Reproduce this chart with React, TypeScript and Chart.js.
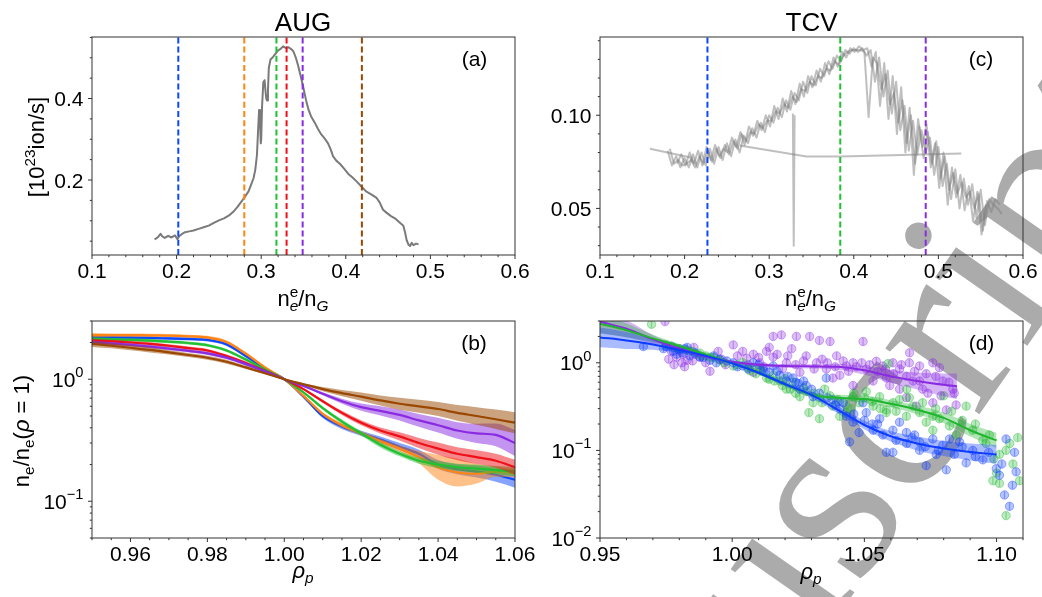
import React, { useEffect, useRef } from "react";
import { Chart, registerables } from "chart.js";
Chart.register(...registerables);

// ---------------- data ----------------
// (a) AUG: ionisation source vs Greenwald fraction
const augTrace: [number, number][] = [
  [0.174,0.054],[0.178,0.060],[0.181,0.068],[0.183,0.062],[0.186,0.058],[0.190,0.063],[0.194,0.059],[0.198,0.064],
  [0.201,0.055],[0.203,0.062],[0.206,0.067],[0.210,0.072],[0.215,0.074],[0.220,0.076],[0.226,0.080],[0.232,0.084],
  [0.238,0.088],[0.244,0.095],[0.250,0.101],[0.256,0.106],[0.262,0.113],[0.267,0.122],[0.272,0.134],[0.277,0.148],
  [0.281,0.160],[0.285,0.172],[0.288,0.188],[0.291,0.205],[0.293,0.225],[0.295,0.262],[0.2965,0.330],[0.2975,0.372],
  [0.2985,0.350],[0.2995,0.290],[0.300,0.300],[0.301,0.380],[0.3025,0.440],[0.304,0.445],[0.305,0.420],[0.306,0.400],
  [0.307,0.395],[0.308,0.420],[0.309,0.475],[0.311,0.496],[0.314,0.502],[0.317,0.510],[0.320,0.518],[0.323,0.522],
  [0.326,0.528],[0.329,0.524],[0.332,0.526],[0.335,0.522],[0.338,0.516],[0.341,0.500],[0.344,0.478],[0.347,0.452],
  [0.350,0.425],[0.353,0.396],[0.356,0.372],[0.359,0.356],[0.363,0.342],[0.367,0.326],[0.371,0.312],[0.375,0.302],
  [0.379,0.290],[0.382,0.276],[0.385,0.258],[0.389,0.247],[0.393,0.240],[0.398,0.228],[0.403,0.215],[0.408,0.206],
  [0.413,0.196],[0.419,0.183],[0.424,0.172],[0.430,0.165],[0.436,0.157],[0.440,0.145],[0.444,0.127],[0.448,0.120],
  [0.453,0.112],[0.458,0.106],[0.463,0.097],[0.468,0.088],[0.470,0.072],[0.472,0.052],[0.474,0.042],[0.476,0.038],
  [0.478,0.046],[0.480,0.040],[0.483,0.044],[0.486,0.042],
];
const augVLines = [0.202, 0.280, 0.318, 0.330, 0.349, 0.419];

// (c) TCV traces
const tcvTraceA: [number, number][] = [
  [0.180,0.081],[0.185,0.073],[0.190,0.078],[0.195,0.072],[0.200,0.077],[0.205,0.072],[0.210,0.079],[0.215,0.072],
  [0.220,0.080],[0.225,0.073],[0.230,0.082],[0.235,0.074],[0.240,0.083],[0.245,0.076],[0.250,0.085],[0.255,0.078],
  [0.260,0.087],[0.265,0.080],[0.270,0.089],[0.275,0.085],[0.280,0.093],[0.285,0.088],[0.290,0.096],[0.295,0.091],
  [0.300,0.100],[0.305,0.096],[0.310,0.104],[0.315,0.099],[0.320,0.108],[0.325,0.103],[0.330,0.112],[0.335,0.108],
  [0.340,0.118],[0.345,0.112],[0.350,0.121],[0.355,0.116],[0.360,0.125],[0.365,0.121],[0.370,0.129],[0.375,0.125],
  [0.380,0.132],[0.385,0.129],[0.390,0.135],[0.395,0.133],[0.400,0.136],[0.405,0.134],[0.410,0.136],[0.415,0.132],
  [0.420,0.135],[0.425,0.118],[0.430,0.131],[0.435,0.110],[0.440,0.124],[0.445,0.101],[0.450,0.118],[0.455,0.092],
  [0.460,0.105],[0.465,0.081],[0.470,0.097],[0.475,0.079],[0.480,0.092],[0.485,0.080],[0.490,0.088],[0.495,0.068],
  [0.500,0.083],[0.505,0.062],[0.510,0.074],[0.515,0.055],[0.520,0.071],[0.525,0.050],[0.530,0.066],[0.535,0.052],
  [0.540,0.063],[0.545,0.045],[0.550,0.060],[0.555,0.041],[0.560,0.055],[0.565,0.052],[0.570,0.050],[0.575,0.047],
];
const tcvTraceB: [number, number][] = [
  [0.1825,0.082],[0.1875,0.074],[0.1925,0.076],[0.1975,0.073],[0.2025,0.074],[0.2075,0.076],[0.2125,0.072],[0.2175,0.078],
  [0.2225,0.074],[0.2275,0.081],[0.2325,0.075],[0.2375,0.082],[0.2425,0.077],[0.2475,0.084],[0.2525,0.079],[0.2575,0.086],
  [0.2625,0.082],[0.2675,0.090],[0.2725,0.086],[0.2775,0.091],[0.2825,0.090],[0.2875,0.095],[0.2925,0.093],[0.2975,0.097],
  [0.3025,0.097],[0.3075,0.102],[0.3125,0.101],[0.3175,0.106],[0.3225,0.104],[0.3275,0.110],[0.3325,0.107],[0.3375,0.114],
  [0.3425,0.113],[0.3475,0.118],[0.3525,0.116],[0.3575,0.121],[0.3625,0.120],[0.3675,0.125],[0.3725,0.124],[0.3775,0.129],
  [0.3825,0.127],[0.3875,0.132],[0.3925,0.134],[0.3975,0.135],[0.4025,0.135],[0.4075,0.135],[0.4125,0.134],[0.4175,0.099],
  [0.4225,0.131],[0.4275,0.128],[0.4325,0.114],[0.4375,0.122],[0.4425,0.106],[0.4475,0.112],[0.4525,0.096],[0.4575,0.108],
  [0.4625,0.085],[0.4675,0.100],[0.4725,0.074],[0.4775,0.094],[0.4825,0.077],[0.4875,0.091],[0.4925,0.074],[0.4975,0.086],
  [0.5025,0.066],[0.5075,0.078],[0.5125,0.060],[0.5175,0.069],[0.5225,0.058],[0.5275,0.064],[0.5325,0.056],[0.5375,0.059],
  [0.5425,0.050],[0.5475,0.058],[0.5525,0.038],[0.5575,0.054],[0.5625,0.048],[0.5675,0.055],[0.5725,0.052],
];
const tcvTraceC: [number, number][] = [
  [0.191,0.074],[0.196,0.079],[0.201,0.073],[0.206,0.080],[0.211,0.074],[0.216,0.081],[0.221,0.073],[0.226,0.083],
  [0.231,0.076],[0.236,0.084],[0.241,0.078],[0.246,0.082],[0.251,0.080],[0.256,0.088],[0.261,0.083],[0.266,0.091],
  [0.271,0.084],[0.276,0.094],[0.281,0.089],[0.286,0.097],[0.291,0.092],[0.296,0.100],[0.301,0.094],[0.306,0.105],
  [0.311,0.098],[0.316,0.109],[0.321,0.102],[0.326,0.113],[0.331,0.106],[0.336,0.117],[0.341,0.110],[0.346,0.121],
  [0.351,0.115],[0.356,0.124],[0.361,0.118],[0.366,0.128],[0.371,0.122],[0.376,0.131],[0.381,0.126],[0.386,0.134],
  [0.391,0.131],[0.396,0.136],[0.401,0.134],[0.406,0.137],[0.411,0.135],[0.416,0.136],[0.421,0.126],[0.426,0.134],
  [0.431,0.105],[0.436,0.128],[0.441,0.098],[0.446,0.121],[0.451,0.090],[0.456,0.115],[0.461,0.080],[0.466,0.104],
  [0.471,0.068],[0.476,0.098],[0.481,0.083],[0.486,0.095],[0.491,0.072],[0.496,0.085],[0.501,0.061],[0.506,0.080],
  [0.511,0.052],[0.516,0.072],[0.521,0.056],[0.526,0.068],[0.531,0.049],[0.536,0.062],[0.541,0.043],[0.546,0.059],
  [0.551,0.036],[0.556,0.052],
];
const tcvFlatA: [number, number][] = [[0.159,0.082],[0.206,0.0775],[0.212,0.074]];
const tcvFlatB: [number, number][] = [[0.265,0.0838],[0.344,0.0779],[0.385,0.0779],[0.527,0.0795]];
const tcvSpike: [number, number][] = [[0.328,0.101],[0.329,0.030],[0.330,0.100]];
const tcvVLines = [0.227, 0.384, 0.485];

// (b) AUG normalised profiles
const rhoB = [0.95,0.955,0.96,0.965,0.97,0.975,0.98,0.985,0.99,0.995,1.0,1.005,1.01,1.015,1.02,1.025,1.03,1.035,1.04,1.045,1.05,1.055,1.06];
const profBlue   = [2.21,2.20,2.19,2.18,2.16,2.14,2.10,1.93,1.55,1.22,1.00,0.72,0.50,0.41,0.36,0.32,0.28,0.245,0.20,0.183,0.175,0.165,0.15];
const profOrange = [2.30,2.30,2.30,2.29,2.28,2.25,2.20,2.02,1.62,1.25,1.00,0.73,0.52,0.42,0.36,0.31,0.27,0.23,0.19,0.172,0.168,0.175,0.17];
const profGreen  = [2.14,2.12,2.10,2.07,2.03,1.98,1.90,1.72,1.45,1.20,1.00,0.78,0.58,0.45,0.36,0.29,0.245,0.215,0.20,0.19,0.185,0.18,0.175];
const profRed    = [2.07,2.04,2.00,1.95,1.88,1.80,1.72,1.55,1.36,1.17,1.00,0.83,0.66,0.53,0.44,0.38,0.34,0.30,0.27,0.245,0.23,0.215,0.19];
const profPurple = [2.01,1.96,1.91,1.85,1.78,1.71,1.63,1.50,1.33,1.16,1.00,0.88,0.76,0.66,0.59,0.55,0.51,0.46,0.42,0.38,0.36,0.35,0.30];
const profBrown  = [1.95,1.88,1.81,1.74,1.66,1.58,1.50,1.39,1.25,1.12,1.00,0.91,0.83,0.77,0.72,0.67,0.63,0.60,0.57,0.53,0.50,0.47,0.44];
const errBlue   = [0.04,0.03,0.03,0.03,0.03,0.03,0.03,0.03,0.03,0.02,0.01,0.02,0.04,0.05,0.05,0.06,0.07,0.08,0.09,0.10,0.12,0.14,0.16];
const errOrange = [0.04,0.03,0.03,0.03,0.03,0.03,0.03,0.03,0.03,0.02,0.01,0.02,0.03,0.04,0.04,0.05,0.06,0.12,0.26,0.30,0.20,0.10,0.08];
const errGreen  = [0.04,0.03,0.03,0.03,0.03,0.03,0.03,0.03,0.03,0.02,0.01,0.02,0.03,0.04,0.04,0.05,0.05,0.06,0.07,0.07,0.08,0.08,0.09];
const errRed    = [0.04,0.03,0.03,0.03,0.03,0.03,0.03,0.03,0.03,0.02,0.01,0.02,0.03,0.04,0.05,0.06,0.08,0.10,0.12,0.13,0.14,0.14,0.15];
const errPurple = [0.04,0.03,0.03,0.03,0.03,0.03,0.03,0.03,0.03,0.02,0.01,0.02,0.03,0.05,0.07,0.09,0.11,0.13,0.15,0.17,0.20,0.24,0.28];
const errBrown  = [0.06,0.05,0.05,0.05,0.04,0.04,0.04,0.04,0.03,0.02,0.01,0.02,0.04,0.06,0.08,0.10,0.12,0.13,0.14,0.16,0.18,0.20,0.22];

// (d) TCV normalised profiles
const rhoDPurple = [0.95,0.96,0.97,0.98,0.99,1.00,1.01,1.02,1.03,1.04,1.05,1.06,1.07,1.08,1.085];
const rhoD = [0.95,0.96,0.97,0.98,0.99,1.00,1.01,1.02,1.03,1.04,1.05,1.06,1.07,1.08,1.09,1.10];
const fitPurple = [2.95,2.45,1.85,1.45,1.18,1.03,0.95,0.92,0.91,0.90,0.82,0.70,0.62,0.56,0.54];
const fitGreen  = [2.8,2.35,1.9,1.55,1.24,0.99,0.77,0.57,0.43,0.40,0.385,0.34,0.29,0.235,0.17,0.13];
const fitBlue   = [1.95,1.80,1.62,1.40,1.20,0.99,0.77,0.57,0.43,0.29,0.195,0.145,0.12,0.105,0.096,0.09];
const fitErrPurple = [0.35,0.25,0.12,0.06,0.04,0.03,0.04,0.05,0.06,0.08,0.12,0.18,0.25,0.35,0.40];
const fitErrGreen  = [0.30,0.20,0.10,0.06,0.04,0.03,0.04,0.05,0.06,0.08,0.10,0.10,0.12,0.15,0.18,0.22];
const fitErrBlue   = [0.30,0.25,0.15,0.08,0.05,0.03,0.04,0.06,0.08,0.10,0.12,0.15,0.20,0.22,0.25,0.28];
const ptsPurple: [number, number][] = [
  [0.9746,2.95],[0.977,1.35],[0.979,1.16],[0.981,1.0],[0.983,1.07],[0.9815,1.25],[0.984,1.35],[0.9916,0.80],[0.9878,1.16],
  [0.9947,1.35],[1.0004,1.6],[1.004,1.35],[1.0055,1.13],[1.008,1.25],[1.0104,1.0],[1.013,1.35],[1.0155,2.0],[1.0186,2.08],
  [1.0243,2.0],[1.0293,2.0],[1.033,1.8],[1.037,1.75],[1.0495,1.75],[1.0155,1.16],[1.0205,1.0],[1.028,1.2],[1.0319,1.0],
  [1.0356,0.85],[1.0381,0.67],[1.0407,0.72],[1.0432,0.92],[1.0457,1.0],[1.0507,0.85],[1.0545,1.04],[1.057,0.92],[1.0608,1.0],
  [1.0633,0.85],[1.0671,1.3],[1.0684,0.62],[1.0709,0.92],[1.0734,0.75],[1.0759,1.0],[1.0784,0.88],[1.067,1.0],[1.0583,0.67],
  [1.0633,0.5],[1.0659,0.4],[1.0696,0.32],[1.0759,0.35],[1.081,0.29],[1.0847,0.33],[1.0797,0.62],[1.0835,0.5],[1.0709,0.62],
  [1.0457,0.55],[1.0533,0.62],[1.0596,0.55],[1.0256,0.78],[1.019,0.85],[1.008,0.78],[0.9975,0.95],[0.9855,1.5],[1.0225,1.45],
  [1.0395,1.2],[0.976,1.1],[0.978,0.95],[0.980,1.45],[0.982,0.9],[0.985,1.05],[0.986,1.25],[0.990,1.0],[0.996,1.1],
  [1.002,1.2],[1.006,0.95],[1.010,1.15],[1.012,0.9],[1.014,1.5],[1.017,1.25],[1.021,1.2],[1.024,0.95],[1.027,1.05],
  [1.031,0.85],[1.034,1.1],[1.036,1.0],[1.039,0.9],[1.042,1.05],[1.044,0.8],[1.047,0.9],[1.049,1.0],[1.052,0.95],
  [1.055,0.8],[1.058,0.85],[1.061,0.75],[1.064,0.95],[1.066,0.7],[1.069,0.8],[1.072,0.5],[1.074,0.45],[1.077,0.7],
  [1.079,0.42],[1.082,0.6],[1.084,0.45],
];
const ptsGreen: [number, number][] = [
  [0.9695,2.75],[0.9827,1.4],[0.9878,1.29],[0.9916,1.16],[0.9953,1.07],[1.0004,0.92],[1.004,1.0],[1.0067,0.81],[1.0104,0.85],
  [1.013,0.67],[1.0155,0.72],[1.018,0.62],[1.0205,0.5],[1.023,0.6],[1.0256,0.41],[1.028,0.47],[1.0306,0.35],[1.0331,0.4],
  [1.029,0.27],[1.033,0.23],[1.038,0.32],[1.0407,0.245],[1.0432,0.27],[1.0457,0.41],[1.048,0.35],[1.0507,0.47],[1.0533,0.32],
  [1.0558,0.41],[1.0583,0.29],[1.0608,0.35],[1.0633,0.38],[1.0659,0.245],[1.0684,0.32],[1.0709,0.27],[1.0734,0.21],[1.0759,0.17],
  [1.0784,0.23],[1.0822,0.19],[1.0847,0.15],[1.0885,0.32],[1.091,0.17],[1.0948,0.13],[1.0973,0.15],[1.1011,0.09],[1.1036,0.1],
  [1.1062,0.07],[1.0986,0.045],[1.1011,0.042],[1.1036,0.018],[1.108,0.14],[1.1087,0.045],[1.0583,0.27],[1.0759,0.245],[1.059,0.98],
  [0.978,1.5],[0.99,1.2],[1.008,0.88],[1.02,0.66],[1.035,0.5],[1.045,0.3],[1.066,0.5],[1.08,0.42],
  [0.975,1.6],[0.98,1.45],[0.985,1.35],[0.988,1.2],[0.993,1.15],[0.997,1.0],[1.002,0.95],[1.006,0.88],[1.009,0.75],
  [1.011,0.8],[1.014,0.65],[1.016,0.62],[1.019,0.55],[1.022,0.5],[1.024,0.45],[1.027,0.52],[1.031,0.45],[1.034,0.35],
  [1.037,0.42],[1.04,0.38],[1.043,0.33],[1.046,0.45],[1.05,0.4],[1.053,0.36],[1.056,0.3],[1.062,0.28],[1.067,0.4],
  [1.072,0.35],[1.077,0.3],[1.083,0.28],[1.087,0.22],[1.092,0.2],[1.096,0.12],[1.099,0.08],[1.105,0.12],[1.1,0.055],
];
const ptsBlue: [number, number][] = [
  [0.9664,1.53],[0.975,1.53],[0.9777,1.35],[0.98,1.4],[0.984,1.2],[0.9878,1.16],[0.9916,1.07],[0.9953,1.1],[1.0004,1.0],
  [1.004,0.92],[1.008,1.0],[1.0117,0.85],[1.0155,0.92],[1.018,0.72],[1.0205,0.62],[1.023,0.67],[1.0256,0.5],[1.028,0.55],
  [1.0306,0.41],[1.0356,0.67],[1.038,0.38],[1.0407,0.3],[1.0432,0.245],[1.0444,0.125],[1.0457,0.21],[1.048,0.16],[1.0495,0.35],
  [1.0507,0.27],[1.0533,0.17],[1.0558,0.23],[1.0583,0.095],[1.0608,0.095],[1.0608,0.17],[1.0633,0.21],[1.0659,0.16],[1.0709,0.125],
  [1.0734,0.067],[1.0759,0.135],[1.0772,0.09],[1.081,0.06],[1.0822,0.135],[1.086,0.125],[1.0885,0.072],[1.091,0.1],[1.0948,0.078],
  [1.0999,0.062],[1.1011,0.052],[1.1036,0.135],[1.1068,0.095],[1.1074,0.057],[1.103,0.031],[1.1049,0.023],[1.0797,0.115],
  [1.0709,0.1],[0.979,1.25],[0.982,1.45],[0.993,1.2],[1.012,0.8],[1.025,0.58],[1.04,0.36],[1.055,0.2],[1.068,0.14],
  [0.974,1.45],[0.977,1.55],[0.981,1.3],[0.983,1.5],[0.986,1.3],[0.989,1.15],[0.994,1.0],[0.998,1.05],[1.002,0.9],
  [1.006,0.85],[1.01,0.95],[1.014,0.78],[1.017,0.8],[1.021,0.7],[1.024,0.6],[1.027,0.62],[1.03,0.5],[1.033,0.45],
  [1.036,0.4],[1.039,0.33],[1.042,0.35],[1.046,0.26],[1.05,0.22],[1.053,0.2],[1.057,0.15],[1.062,0.13],[1.066,0.12],
  [1.069,0.15],[1.073,0.11],[1.078,0.1],[1.084,0.09],[1.087,0.11],[1.092,0.085],[1.097,0.095],[1.102,0.07],[1.106,0.04],
];
const ptErr = 0.1;

// tick labels
const xTicksA = [0.1, 0.2, 0.3, 0.4, 0.5, 0.6];
const xTickLabelsA = ["0.1", "0.2", "0.3", "0.4", "0.5", "0.6"];
const yTicksA = [0.2, 0.4];
const yTickLabelsA = ["0.2", "0.4"];
const yTicksC = [0.05, 0.10];
const yTickLabelsC = ["0.05", "0.10"];
const xTicksB = [0.96, 0.98, 1.0, 1.02, 1.04, 1.06];
const xTickLabelsB = ["0.96", "0.98", "1.00", "1.02", "1.04", "1.06"];
const yTicksB = [0.1, 1];
const yExpB = ["\u22121", "0"];
const xTicksD = [0.95, 1.0, 1.05, 1.1];
const xTickLabelsD = ["0.95", "1.00", "1.05", "1.10"];
const yTicksD = [0.01, 0.1, 1];
const yExpD = ["\u22122", "\u22121", "0"];

// ---------------- style / layout ----------------
const W = 1042, H = 597;
const FONT = '"Liberation Sans", Arial, Helvetica, sans-serif';
const TICK = 21, LABEL = 22, TITLE = 26, TAG = 21;
const BLUE = "#0b48ff", ORANGE = "#ff8414", GREEN = "#20c032", RED = "#ee1018", PURPLE = "#8a2be2", BROWN = "#9a4800";
const D_PURPLE = "#8a2be2", D_GREEN = "#1fb52e", D_BLUE = "#0c3cff";
const AXIS = "#333";

const boxA = { l: 92, r: 515, t: 37, b: 255 };
const boxC = { l: 600, r: 1023, t: 37, b: 255 };
const boxB = { l: 92, r: 515, t: 321, b: 538 };
const boxD = { l: 600, r: 1023, t: 321, b: 538 };

function rgba(hex: string, a: number) {
  const n = parseInt(hex.slice(1), 16);
  return `rgba(${(n >> 16) & 255},${(n >> 8) & 255},${n & 255},${a})`;
}

type Seg = { t: string; s?: number; dy?: number; it?: boolean; stack?: boolean };

function drawRich(ctx: CanvasRenderingContext2D, segs: Seg[], x: number, y: number, size: number, align: "left" | "center" | "right", rot = 0) {
  ctx.save();
  ctx.translate(x, y);
  if (rot) ctx.rotate(rot);
  const placed: { seg: Seg; x: number; font: string }[] = [];
  let cursor = 0, prevStart = 0, prevW = 0;
  for (const seg of segs) {
    const sz = size * (seg.s ?? 1);
    const font = `${seg.it ? "italic " : ""}${sz}px ${FONT}`;
    ctx.font = font;
    const w = ctx.measureText(seg.t).width;
    if (seg.stack) {
      placed.push({ seg, x: prevStart, font });
      cursor = prevStart + Math.max(prevW, w);
    } else {
      placed.push({ seg, x: cursor, font });
      prevStart = cursor; prevW = w; cursor += w;
    }
  }
  const off = align === "left" ? 0 : align === "center" ? -cursor / 2 : -cursor;
  ctx.textAlign = "left";
  ctx.textBaseline = "alphabetic";
  ctx.fillStyle = "#000";
  for (const p of placed) {
    ctx.font = p.font;
    ctx.fillText(p.seg.t, off + p.x, (p.seg.dy ?? 0) * size);
  }
  ctx.restore();
}

const plain = (s: string): Seg[] => [{ t: s }];
const pow10 = (e: string): Seg[] => [{ t: "10" }, { t: e, s: 0.7, dy: -0.45 }];

function range(a: number, b: number, step: number, skip: number[]) {
  const out: number[] = [];
  const n = Math.round((b - a) / step);
  for (let i = 0; i <= n; i++) {
    const v = +(a + i * step).toFixed(6);
    if (!skip.some((s) => Math.abs(s - v) < 1e-9)) out.push(v);
  }
  return out;
}
function logMinors(lo: number, hi: number) {
  const out: number[] = [];
  for (let d = -3; d <= 1; d++) for (let k = 2; k <= 9; k++) {
    const v = k * Math.pow(10, d);
    if (v >= lo - 1e-12 && v <= hi + 1e-12) out.push(v);
  }
  return out;
}

type TextItem = { segs: Seg[]; x: number; y: number; size: number; align: "left" | "center" | "right"; rot?: number };
type Decor = {
  xMajor: number[]; xLabels: Seg[][]; xMinor: number[];
  yMajor: number[]; yLabels: Seg[][]; yMinor: number[];
  texts: TextItem[];
  errPts?: { pts: [number, number][]; color: string }[];
};

function makeDecor(d: Decor) {
  return {
    id: "decor",
    beforeDatasetsDraw(chart: any) {
      if (!d.errPts) return;
      const ctx: CanvasRenderingContext2D = chart.ctx;
      const { left, right, top, bottom } = chart.chartArea;
      const xs = chart.scales.x, ys = chart.scales.y;
      ctx.save();
      ctx.beginPath();
      ctx.rect(left, top, right - left, bottom - top);
      ctx.clip();
      ctx.lineWidth = 1.3;
      for (const g of d.errPts) {
        ctx.strokeStyle = g.color;
        for (const [x, y] of g.pts) {
          const px = xs.getPixelForValue(x);
          ctx.beginPath();
          ctx.moveTo(px, ys.getPixelForValue(y * (1 + ptErr)));
          ctx.lineTo(px, ys.getPixelForValue(y / (1 + ptErr)));
          ctx.stroke();
        }
      }
      ctx.restore();
    },
    afterDraw(chart: any) {
      const ctx: CanvasRenderingContext2D = chart.ctx;
      const { left, right, top, bottom } = chart.chartArea;
      const xs = chart.scales.x, ys = chart.scales.y;
      ctx.save();
      ctx.strokeStyle = AXIS;
      ctx.lineWidth = 1;
      ctx.strokeRect(left, top, right - left, bottom - top);
      const tick = (x1: number, y1: number, x2: number, y2: number) => {
        ctx.beginPath(); ctx.moveTo(x1, y1); ctx.lineTo(x2, y2); ctx.stroke();
      };
      d.xMajor.forEach((v, i) => {
        const px = xs.getPixelForValue(v);
        tick(px, bottom, px, bottom + 4);
        drawRich(ctx, d.xLabels[i], px, bottom + 23, TICK, "center");
      });
      d.xMinor.forEach((v) => {
        const px = xs.getPixelForValue(v);
        if (px >= left - 0.5 && px <= right + 0.5) tick(px, bottom, px, bottom + 2.2);
      });
      d.yMajor.forEach((v, i) => {
        const py = ys.getPixelForValue(v);
        tick(left - 4, py, left, py);
        drawRich(ctx, d.yLabels[i], left - 8.5, py + 7.5, TICK, "right");
      });
      d.yMinor.forEach((v) => {
        const py = ys.getPixelForValue(v);
        if (py >= top - 0.5 && py <= bottom + 0.5) tick(left - 2.2, py, left, py);
      });
      for (const t of d.texts) drawRich(ctx, t.segs, t.x, t.y, t.size, t.align, t.rot ?? 0);
      ctx.restore();
    },
  };
}

const pairs = (p: [number, number][]) => p.map(([x, y]) => ({ x, y }));
const zip = (xs: number[], ys: number[]) => xs.map((x, i) => ({ x, y: ys[i] }));

function lineDs(data: any[], color: string, width: number, extra: any = {}) {
  return { data, borderColor: color, backgroundColor: color, borderWidth: width, pointRadius: 0, tension: 0, fill: false, borderJoinStyle: "round", ...extra };
}
function bandDs(xs: number[], vals: number[], errs: number[], color: string, alpha: number) {
  const lo = xs.map((x, i) => ({ x, y: vals[i] / (1 + errs[i]) }));
  const hi = xs.map((x, i) => ({ x, y: vals[i] * (1 + errs[i]) }));
  return [
    { data: lo, borderWidth: 0, borderColor: "rgba(0,0,0,0)", pointRadius: 0, fill: false, cubicInterpolationMode: "monotone" },
    { data: hi, borderWidth: 0, borderColor: "rgba(0,0,0,0)", backgroundColor: rgba(color, alpha), pointRadius: 0, fill: "-1", cubicInterpolationMode: "monotone" },
  ];
}
function vlineDs(v: number, ymin: number, ymax: number, color: string) {
  return lineDs([{ x: v, y: ymin }, { x: v, y: ymax }], color, 2, { borderDash: [6, 3.2], borderCapStyle: "butt" });
}
function scatterDs(p: [number, number][], color: string) {
  return { data: pairs(p), showLine: false, pointRadius: 4.2, pointBorderWidth: 1, pointBackgroundColor: rgba(color, 0.3), pointBorderColor: rgba(color, 0.38), borderColor: rgba(color, 0.38) };
}

function makeConfig(box: any, x: any, y: any, datasets: any[], decor: Decor) {
  datasets.forEach((d, i) => (d.order = -i));
  return {
    type: "line",
    data: { datasets },
    options: {
      responsive: false,
      animation: false,
      devicePixelRatio: 1,
      events: [],
      layout: { autoPadding: false, padding: { left: box.l, top: box.t, right: W - box.r, bottom: H - box.b } },
      scales: { x: { ...x, display: false }, y: { ...y, display: false } },
      plugins: { legend: { display: false }, tooltip: { enabled: false } },
    },
    plugins: [makeDecor(decor)],
  };
}

const NE_NG: Seg[] = [{ t: "n" }, { t: "e", s: 0.7, dy: -0.42 }, { t: "e", s: 0.7, dy: 0.24, it: true, stack: true }, { t: "/n" }, { t: "G", s: 0.7, dy: 0.24, it: true }];
const RHO_P: Seg[] = [{ t: "\u03c1", it: true }, { t: "p", s: 0.7, dy: 0.24, it: true }];

function configA() {
  const yMin = 0.016, yMax = 0.551;
  const colors = [BLUE, ORANGE, GREEN, RED, PURPLE, BROWN];
  const ds: any[] = [lineDs(pairs(augTrace), "#7a7a7a", 2)];
  augVLines.forEach((v, i) => ds.push(vlineDs(v, yMin, yMax, colors[i])));
  return makeConfig(boxA, { type: "linear", min: 0.1, max: 0.6 }, { type: "linear", min: yMin, max: yMax }, ds, {
    xMajor: xTicksA, xLabels: xTickLabelsA.map(plain), xMinor: range(0.1, 0.6, 0.02, xTicksA),
    yMajor: yTicksA, yLabels: yTickLabelsA.map(plain), yMinor: range(0.05, 0.55, 0.05, yTicksA),
    texts: [
      { segs: plain("AUG"), x: 303, y: 30.5, size: TITLE, align: "center" },
      { segs: plain("(a)"), x: 474.5, y: 66, size: TAG, align: "center" },
      { segs: NE_NG, x: 303, y: 306, size: LABEL, align: "center" },
      { segs: [{ t: "[10" }, { t: "23", s: 0.7, dy: -0.42 }, { t: "ion/s]" }], x: 44, y: 147, size: LABEL, align: "center", rot: -Math.PI / 2 },
    ],
  });
}

function configC() {
  const yMin = 0.025, yMax = 0.142;
  const colors = [BLUE, GREEN, PURPLE];
  const grey = "rgba(128,128,128,0.5)";
  const ds: any[] = [
    lineDs(pairs(tcvFlatA), grey, 2),
    lineDs(pairs(tcvFlatB), grey, 2),
    lineDs(pairs(tcvSpike), grey, 2),
    lineDs(pairs(tcvTraceA), grey, 2),
    lineDs(pairs(tcvTraceB), grey, 2),
    lineDs(pairs(tcvTraceC), grey, 2),
  ];
  tcvVLines.forEach((v, i) => ds.push(vlineDs(v, yMin, yMax, colors[i])));
  return makeConfig(boxC, { type: "linear", min: 0.1, max: 0.6 }, { type: "linear", min: yMin, max: yMax }, ds, {
    xMajor: xTicksA, xLabels: xTickLabelsA.map(plain), xMinor: range(0.1, 0.6, 0.02, xTicksA),
    yMajor: yTicksC, yLabels: yTickLabelsC.map(plain), yMinor: range(0.03, 0.14, 0.01, yTicksC),
    texts: [
      { segs: plain("TCV"), x: 811.5, y: 30.5, size: TITLE, align: "center" },
      { segs: plain("(c)"), x: 981, y: 66, size: TAG, align: "center" },
      { segs: NE_NG, x: 810.5, y: 306, size: LABEL, align: "center" },
    ],
  });
}

function configB() {
  const series: [number[], number[], string][] = [
    [profBlue, errBlue, BLUE], [profOrange, errOrange, ORANGE], [profGreen, errGreen, GREEN],
    [profRed, errRed, RED], [profPurple, errPurple, PURPLE], [profBrown, errBrown, BROWN],
  ];
  const ds: any[] = [];
  for (const [v, e, c] of series) {
    ds.push(...bandDs(rhoB, v, e, c, 0.5));
    ds.push(lineDs(zip(rhoB, v), c, 2.2, { cubicInterpolationMode: "monotone" }));
  }
  return makeConfig(boxB, { type: "linear", min: 0.95, max: 1.06 }, { type: "logarithmic", min: 0.05, max: 3 }, ds, {
    xMajor: xTicksB, xLabels: xTickLabelsB.map(plain), xMinor: range(0.95, 1.06, 0.005, xTicksB),
    yMajor: yTicksB, yLabels: yExpB.map(pow10), yMinor: logMinors(0.05, 3),
    texts: [
      { segs: plain("(b)"), x: 474, y: 350, size: TAG, align: "center" },
      { segs: RHO_P, x: 303, y: 578, size: LABEL, align: "center" },
      {
        segs: [{ t: "n" }, { t: "e", s: 0.7, dy: 0.24 }, { t: "/n" }, { t: "e", s: 0.7, dy: 0.24 }, { t: "(" }, { t: "\u03c1", it: true }, { t: " = 1)" }],
        x: 29, y: 431, size: LABEL, align: "center", rot: -Math.PI / 2,
      },
    ],
  });
}

function configD() {
  const ds: any[] = [
    scatterDs(ptsPurple, D_PURPLE),
    scatterDs(ptsGreen, D_GREEN),
    scatterDs(ptsBlue, D_BLUE),
    ...bandDs(rhoDPurple, fitPurple, fitErrPurple, D_PURPLE, 0.35),
    ...bandDs(rhoD, fitGreen, fitErrGreen, D_GREEN, 0.35),
    ...bandDs(rhoD, fitBlue, fitErrBlue, D_BLUE, 0.35),
    lineDs(zip(rhoDPurple, fitPurple), D_PURPLE, 2, { cubicInterpolationMode: "monotone" }),
    lineDs(zip(rhoD, fitGreen), D_GREEN, 2, { cubicInterpolationMode: "monotone" }),
    lineDs(zip(rhoD, fitBlue), D_BLUE, 2, { cubicInterpolationMode: "monotone" }),
  ];
  return makeConfig(boxD, { type: "linear", min: 0.95, max: 1.11 }, { type: "logarithmic", min: 0.01, max: 3 }, ds, {
    xMajor: xTicksD, xLabels: xTickLabelsD.map(plain), xMinor: range(0.95, 1.11, 0.01, xTicksD),
    yMajor: yTicksD, yLabels: yExpD.map(pow10), yMinor: logMinors(0.01, 3),
    texts: [
      { segs: plain("(d)"), x: 981.5, y: 350, size: TAG, align: "center" },
      { segs: RHO_P, x: 811, y: 579, size: LABEL, align: "center" },
    ],
    errPts: [
      { pts: ptsPurple, color: rgba(D_PURPLE, 0.38) },
      { pts: ptsGreen, color: rgba(D_GREEN, 0.38) },
      { pts: ptsBlue, color: rgba(D_BLUE, 0.38) },
    ],
  });
}

export default function App() {
  const rA = useRef<HTMLCanvasElement>(null);
  const rB = useRef<HTMLCanvasElement>(null);
  const rC = useRef<HTMLCanvasElement>(null);
  const rD = useRef<HTMLCanvasElement>(null);
  useEffect(() => {
    const charts = [
      new Chart(rA.current as HTMLCanvasElement, configA() as any),
      new Chart(rB.current as HTMLCanvasElement, configB() as any),
      new Chart(rC.current as HTMLCanvasElement, configC() as any),
      new Chart(rD.current as HTMLCanvasElement, configD() as any),
    ];
    return () => charts.forEach((c) => c.destroy());
  }, []);
  const cs: React.CSSProperties = { position: "absolute", left: 0, top: 0, width: W, height: H };
  return (
    <div style={{ position: "absolute", left: 0, top: 0, width: W, height: H, overflow: "hidden", background: "#fff" }}>
      <div
        style={{
          position: "absolute", left: -226.5, top: 1771, transformOrigin: "0 0", transform: "rotate(-55deg)",
          fontFamily: '"Liberation Serif", "Times New Roman", serif', fontSize: 250, lineHeight: "250px",
          whiteSpace: "nowrap", color: "rgba(128,128,128,0.66)", pointerEvents: "none",
        }}
      >
        Accepted Manuscript
      </div>
      <canvas ref={rA} width={W} height={H} style={cs} />
      <canvas ref={rB} width={W} height={H} style={cs} />
      <canvas ref={rC} width={W} height={H} style={cs} />
      <canvas ref={rD} width={W} height={H} style={cs} />
    </div>
  );
}
